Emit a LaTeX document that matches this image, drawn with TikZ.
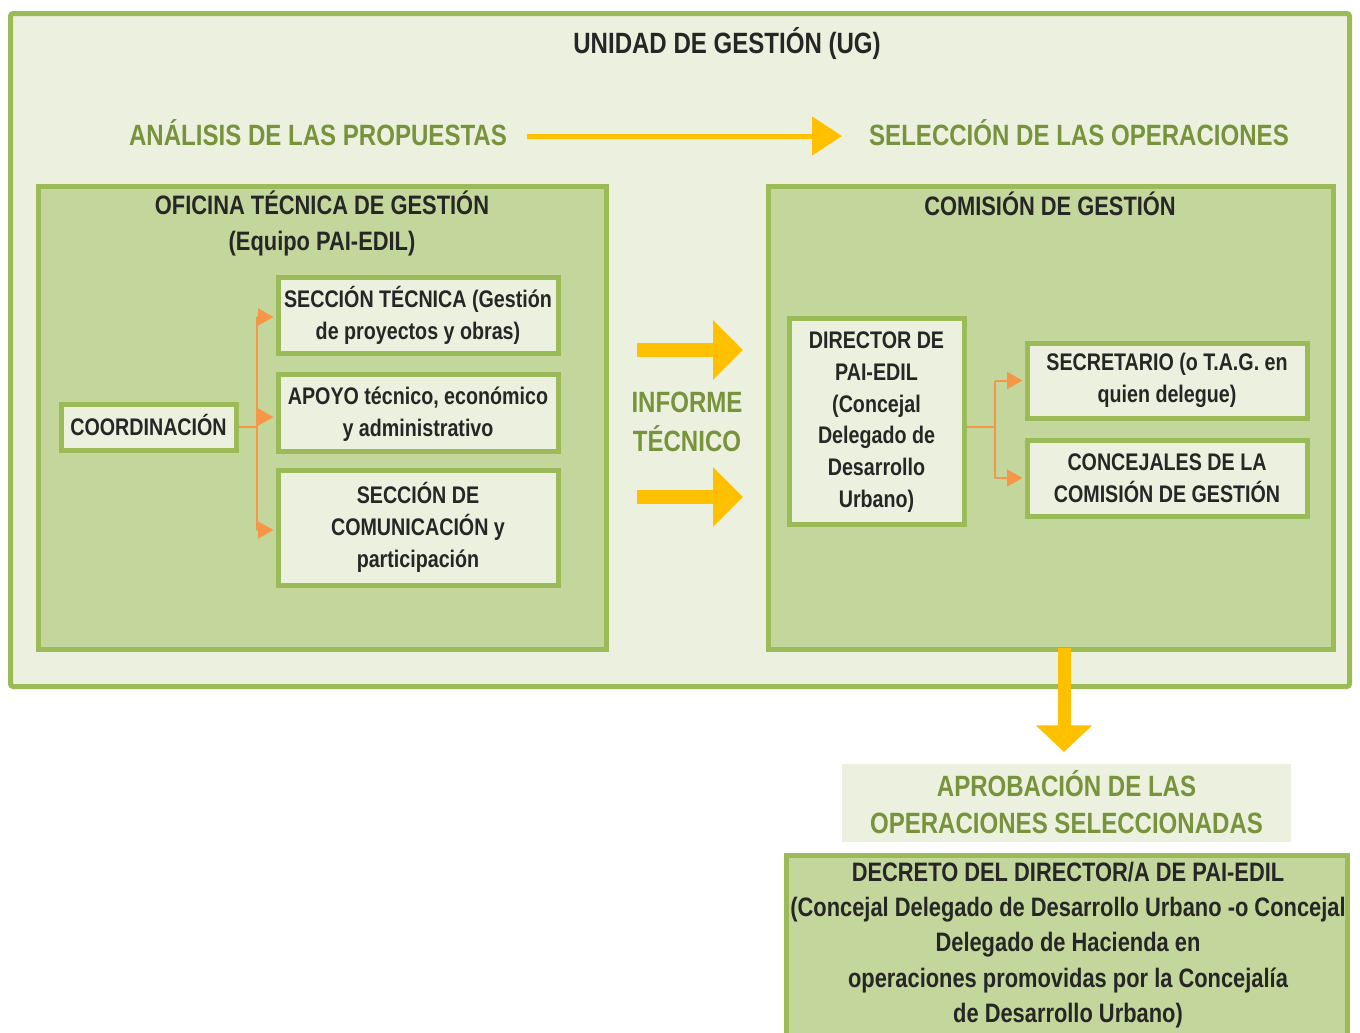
\documentclass[tikz,border=0pt]{standalone}
\usepackage{fontspec}
\setmainfont{Liberation Sans}[FakeStretch=0.82]
\usetikzlibrary{arrows.meta}
\definecolor{bord}{HTML}{9BBB59}
\definecolor{lightg}{HTML}{EBF1DE}
\definecolor{midg}{HTML}{C3D69B}
\definecolor{txtg}{HTML}{77933C}
\definecolor{orng}{HTML}{F79646}
\definecolor{yel}{HTML}{FFC000}
\definecolor{dark}{HTML}{262626}
\begin{document}
\begin{tikzpicture}[x=0.75pt,y=-0.75pt,
 box/.style={draw=bord,line width=3.75pt,fill=lightg,inner sep=0pt,align=center,text=dark,font=\bfseries\fontsize{18}{24}\selectfont},
 panel/.style={draw=bord,line width=3.75pt,fill=midg,inner sep=0pt},
 head/.style={text=dark,font=\bfseries\fontsize{20}{27}\selectfont,align=center,inner sep=0pt},
 ghead/.style={text=txtg,font=\bfseries\fontsize{22}{29}\selectfont,align=center,inner sep=0pt},
 conn/.style={draw=orng,line width=1.5pt},
 connarr/.style={conn,shorten >=1.5pt,-{Triangle[length=11.5pt,width=12.5pt]}},
 bigarr/.style={draw=yel,line width=10.5pt,-{Triangle[length=22.5pt,width=43.5pt]}},
]
\useasboundingbox (0,0) rectangle (1360,1032);
\fill[white] (0,0) rectangle (1360,1032);
\clip (0,0) rectangle (1360,1032);

% outer unit
\node[draw=bord,line width=3.75pt,fill=lightg,inner sep=0pt,rounded corners=2pt,
  minimum width=1004.25pt,minimum height=504.75pt] (ug) at (680,350) {};
\node[head,font=\bfseries\fontsize{22}{29}\selectfont] (title) at (727,44) {UNIDAD DE GESTIÓN (UG)};
\node[ghead] (analisis) at (318,133) {ANÁLISIS DE LAS PROPUESTAS};
\node[ghead] (seleccion) at (1079,133) {SELECCIÓN DE LAS OPERACIONES};

% panels
\node[panel,minimum width=426pt,minimum height=347.25pt] (otg) at (322,417.5) {};
\node[panel,minimum width=423.75pt,minimum height=347.25pt] (com) at (1050.5,417.5) {};
\node[head] (otgt) at (322,223) {OFICINA TÉCNICA DE GESTIÓN\\(Equipo PAI-EDIL)};
\node[head] (comt) at (1050,204) {COMISIÓN DE GESTIÓN};

% left boxes
\node[box,minimum width=131.25pt,minimum height=34.5pt] (coord) at (148.5,427) {};
\node[box,draw=none,fill=none] (coordt) at (148.5,425) {COORDINACIÓN};
\node[box,minimum width=210pt,minimum height=57pt] (st) at (418,315) {SECCIÓN TÉCNICA (Gestión\\de proyectos y obras)};
\node[box,minimum width=210pt,minimum height=57.75pt] (ap) at (418,412.5) {};
\node[box,draw=none,fill=none] (apt) at (418,414) {APOYO técnico, económico\\y administrativo};
\node[box,minimum width=210pt,minimum height=86.25pt] (sc) at (418,527.5) {SECCIÓN DE\\COMUNICACIÓN y\\participación};

% right boxes
\node[box,minimum width=131.25pt,minimum height=154.5pt] (dir) at (876.5,421) {};
\node[box,draw=none,fill=none,font=\bfseries\fontsize{18}{23.8}\selectfont] (dirt) at (876.5,422) {DIRECTOR DE\\PAI-EDIL\\(Concejal\\Delegado de\\Desarrollo\\Urbano)};
\node[box,minimum width=210pt,minimum height=56.25pt] (sec) at (1167,380.5) {SECRETARIO (o T.A.G. en\\quien delegue)};
\node[box,minimum width=210pt,minimum height=57pt] (conc) at (1167,478) {CONCEJALES DE LA\\COMISIÓN DE GESTIÓN};

% informe tecnico
\node[ghead] (inf) at (687,422) {INFORME\\TÉCNICO};

% bottom
\node[fill=lightg,inner sep=0pt,minimum width=336.75pt,minimum height=58.5pt] (aprob) at (1066.5,803) {};
\node[ghead,font=\bfseries\fontsize{22}{28}\selectfont] (aprobt) at (1066.5,802) {APROBACIÓN DE LAS\\OPERACIONES SELECCIONADAS};
\node[panel,minimum width=421.1pt,minimum height=142.5pt] (decreto) at (1067.25,950) {};
\node[head,font=\bfseries\fontsize{20}{26.4}\selectfont] (decretot) at (1068,945) {DECRETO DEL DIRECTOR/A DE PAI-EDIL\\(Concejal Delegado de Desarrollo Urbano -o Concejal\\Delegado de Hacienda en\\operaciones promovidas por la Concejalía\\de Desarrollo Urbano)};

% orange connectors left
\coordinate (jl) at (257,427);
\coordinate (stin) at ([yshift=-1.5pt]st.west);
\coordinate (apin) at ([yshift=-3.4pt]ap.west);
\coordinate (scin) at ([yshift=-1.9pt]sc.west);
\draw[conn] (coord.east) -- (jl);
\draw[conn] (jl |- stin) -- (jl |- scin);
\draw[connarr] (jl |- stin) -- (stin);
\draw[connarr] (jl |- apin) -- (apin);
\draw[connarr] (jl |- scin) -- (scin);

% orange connectors right
\coordinate (jr) at (995,427);
\draw[conn] (dir.east |- jr) -- (jr);
\draw[conn] (jr |- sec.west) -- (jr |- conc.west);
\draw[connarr] (jr |- sec.west) -- (sec.west);
\draw[connarr] (jr |- conc.west) -- (conc.west);

% yellow arrows
\coordinate (t1) at (527,136);
\coordinate (t2) at (842,136);
\draw[draw=yel,line width=3.75pt,-{Triangle[length=22.5pt,width=28.5pt]}] (t1) -- (t2);
\coordinate (a1s) at (637,350);
\coordinate (a1e) at (743,350);
\draw[bigarr] (a1s) -- (a1e);
\coordinate (a2s) at (637,497);
\coordinate (a2e) at (743,497);
\draw[bigarr] (a2s) -- (a2e);
\coordinate (d1) at (1064,648);
\coordinate (d2) at (1064,752);
\draw[draw=yel,line width=9.75pt,-{Triangle[length=20pt,width=41pt]}] (d1) -- (d2);
\end{tikzpicture}
\end{document}
